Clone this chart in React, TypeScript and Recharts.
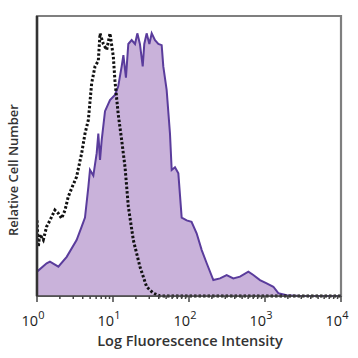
import React from 'react';
import { ComposedChart, Area, Line, XAxis, YAxis, ReferenceArea } from 'recharts';

// stained sample (filled purple histogram): intensity vs relative count
const stainedX = [
  1.0, 1.34, 1.48, 1.91, 2.46, 3.32, 3.87, 4.28, 4.74, 4.98, 5.51, 6.1, 6.41, 6.75, 7.1,
  7.85, 9.13, 10.6, 11.7, 13.0, 13.7, 14.8, 15.9, 17.6, 19.5, 20.9, 22.6, 24.6, 25.8, 27.7,
  30.1, 32.3, 35.7, 39.5, 43.7, 45.9, 50.8, 56.2, 59.2, 65.4, 72.4, 80.1, 93.2, 108, 126,
  147, 171, 209, 256, 313, 383, 469, 604, 702, 859, 1052, 1288, 1497, 1928, 2888, 10000,
];
const stainedY = [
  8.7, 11.7, 12.3, 10.5, 14, 20, 24.8, 28, 39, 45, 43, 51, 58, 48.6, 55.7,
  66, 70, 71.8, 74.8, 82, 86, 78, 90, 91.4, 90, 93.8, 90, 82, 90, 93.8,
  90, 93.8, 91.4, 90, 89.6, 82, 73.6, 58, 45, 46, 43.8, 28, 27, 26.5, 22.4,
  16.4, 11.7, 5.7, 6.3, 7.5, 6.3, 6.9, 8.7, 7.5, 5.7, 4.5, 3.3, 1, 0.3, 0, 0,
];

// isotype control (dotted black histogram)
const controlX = [
  1.0, 1.04, 1.09, 1.21, 1.34, 1.48, 1.72, 1.91, 2.11, 2.34, 2.58, 2.86, 3.32, 3.87, 4.28,
  4.74, 5.24, 5.8, 6.41, 6.75, 7.46, 8.26, 9.13, 10.1, 10.6, 11.7, 13.0, 14.4, 15.9, 18.5,
  22.6, 27.7, 33.9, 41.5, 10000,
];
const controlY = [
  27, 17.6, 22, 20, 24.8, 27, 30.7, 29.5, 27.7, 30.7, 35.5, 38.5, 42.6, 51, 58,
  62.9, 76, 82, 84, 93.8, 90, 87.9, 93.8, 85.5, 77, 65, 55.7, 46, 32, 20,
  10.5, 3.3, 1, 0, 0,
];

const majorTicks = [1, 10, 100, 1000, 10000];
const tickExponents = ['0', '1', '2', '3', '4'];
const minorTicks = [
  2, 3, 4, 5, 6, 7, 8, 9,
  20, 30, 40, 50, 60, 70, 80, 90,
  200, 300, 400, 500, 600, 700, 800, 900,
  2000, 3000, 4000, 5000, 6000, 7000, 8000, 9000,
];
const allTicks = [...majorTicks, ...minorTicks].sort((a, b) => a - b);

const stained = stainedX.map((x, i) => ({ x, y: stainedY[i] }));
const control = controlX.map((x, i) => ({ x, y: controlY[i] }));

const font = '"Open Sans", "Noto Sans", sans-serif';

function LogTick(props: any) {
  const { x, y, payload } = props;
  const idx = majorTicks.indexOf(payload.value);
  const major = idx >= 0;
  return (
    <g>
      <line x1={x} x2={x} y1={y} y2={y + (major ? 6 : 3)} stroke="#444" strokeWidth={1.5} />
      {major && (
        <text x={x - 4} y={y + 30} textAnchor="middle" fontFamily={font} fontSize={14.5} fontWeight={500} fill="#222">
          10
          <tspan dy={-7} fontSize={11}>{tickExponents[idx]}</tspan>
        </text>
      )}
    </g>
  );
}

export default function App() {
  return (
    <div style={{ position: 'absolute', left: 0, top: 0, width: 358, height: 358, background: '#fff' }}>
      <ComposedChart width={358} height={358} margin={{ top: 16, right: 17, left: 0, bottom: 0 }}>
        <XAxis
          type="number"
          dataKey="x"
          scale="log"
          domain={[1, 10000]}
          ticks={allTicks}
          interval={0}
          allowDataOverflow
          height={62}
          tickSize={0}
          tickMargin={0}
          tickLine={false}
          tick={<LogTick />}
          axisLine={{ stroke: '#444', strokeWidth: 1.5 }}
        />
        <YAxis
          type="number"
          domain={[0, 100]}
          width={37}
          tick={false}
          tickLine={false}
          axisLine={{ stroke: '#333', strokeWidth: 2.5 }}
        />
        <ReferenceArea x1={1} x2={10000} y1={0} y2={100} fill="none" stroke="#7f7f7f" strokeWidth={2.2} />
        <Area
          data={stained}
          dataKey="y"
          type="linear"
          stroke="#5a3c9c"
          strokeWidth={2}
          fill="#c9b2da"
          fillOpacity={1}
          isAnimationActive={false}
        />
        <Line
          data={control}
          dataKey="y"
          type="linear"
          stroke="#111"
          strokeWidth={3}
          strokeDasharray="2.5 2"
          dot={false}
          isAnimationActive={false}
        />
      </ComposedChart>
      <div
        style={{
          position: 'absolute', left: 0, top: 331, width: 380, textAlign: 'center',
          fontFamily: font, fontSize: 14.5, fontWeight: 600, color: '#333', lineHeight: '20px',
        }}
      >
        Log Fluorescence Intensity
      </div>
      <div
        style={{
          position: 'absolute', left: 13, top: 170, width: 200, marginLeft: -100, marginTop: -10,
          transform: 'rotate(-90deg)', textAlign: 'center', fontFamily: font, fontSize: 13,
          fontWeight: 600, color: '#333', lineHeight: '20px', whiteSpace: 'nowrap',
        }}
      >
        Relative Cell Number
      </div>
    </div>
  );
}
